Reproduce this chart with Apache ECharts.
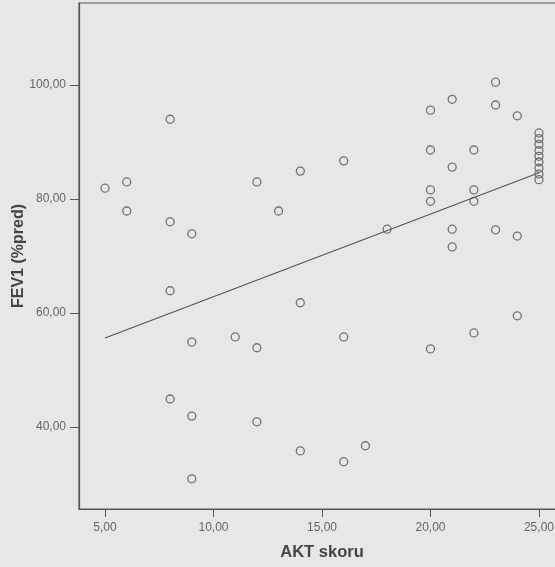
<!DOCTYPE html>
<html>
<head>
<meta charset="utf-8">
<script src="https://cdn.jsdelivr.net/npm/echarts@6/dist/echarts.min.js"></script>
<style>
    html,body{margin:0;padding:0;background:#e7e7e7;}
    #scatter_chart{width:555px;height:567px;}
</style>
</head>
<body>
<div id="scatter_chart"></div>
<script>
// AKT skoru (x) ve FEV1 (%pred) (y) degerleri
var akt_score = [5, 6, 6, 8, 8, 9, 12, 13, 23, 21, 23, 20, 24, 20, 22, 16, 14, 21, 20, 22, 20, 22,
    18, 21, 23, 24, 21,
    25, 25, 25, 25, 25, 25, 25, 25, 25,
    8, 9, 11, 12, 8, 9, 12, 9,
    14, 16, 20, 22, 24, 14, 16, 17];
var fev1_pred = [81.9, 83, 77.9, 94, 76, 73.9, 83, 77.9, 100.5, 97.5, 96.5, 95.6, 94.6, 88.6, 88.6, 86.7, 84.9, 85.6, 81.6, 81.6, 79.6, 79.6,
    74.7, 74.7, 74.6, 73.5, 71.6,
    91.6, 90.6, 89.6, 88.5, 87.5, 86.5, 85.4, 84.4, 83.4,
    63.9, 54.9, 55.8, 53.9, 44.9, 41.9, 40.9, 30.9,
    61.8, 55.8, 53.7, 56.5, 59.5, 35.8, 33.9, 36.7];

// regresyon dogrusu (uc noktalar)
var fit_x = [5, 25];
var fit_y = [55.6, 84.6];

var x_ticks = [5, 10, 15, 20, 25];
var y_ticks = [40, 60, 80, 100];

var points = [];
for(var i=0;i<akt_score.length;i++){
    points.push([akt_score[i], fev1_pred[i]]);
}
var fitLine = [];
for(var j=0;j<fit_x.length;j++){
    fitLine.push([fit_x[j], fit_y[j]]);
}

function fmt(v){
    return v.toFixed(2).replace(".", ",");
}

var myChart = echarts.init(document.getElementById('scatter_chart'));
var option = {
    backgroundColor: '#e7e7e7',
    animation: false,
    grid: {
        left: 79,
        top: 3,
        right: -10,
        bottom: 58,
        outerBoundsMode: 'none',
        show: true,
        borderColor: '#555',
        borderWidth: 1.2,
        backgroundColor: 'transparent'
    },
    xAxis: {
        type: 'value',
        min: 3.8,
        max: 26.2,
        name: 'AKT skoru',
        nameLocation: 'middle',
        nameGap: 35,
        nameMoveOverlap: false,
        nameTextStyle: {
            fontFamily: 'Liberation Sans',
            fontWeight: 'bold',
            fontSize: 16.5,
            color: '#444'
        },
        splitLine: {show: false},
        axisLine: {show: true, lineStyle: {color: '#555', width: 1.2}},
        axisTick: {show: true, length: 8, customValues: x_ticks, lineStyle: {color: '#555'}},
        axisLabel: {
            customValues: x_ticks,
            margin: 13,
            fontFamily: 'Liberation Sans',
            fontSize: 12,
            color: '#666',
            formatter: fmt
        }
    },
    yAxis: {
        type: 'value',
        min: 25.6,
        max: 114.4,
        name: 'FEV1 (%pred)',
        nameLocation: 'middle',
        nameGap: 52,
        nameMoveOverlap: false,
        nameTextStyle: {
            fontFamily: 'Liberation Sans',
            fontWeight: 'bold',
            fontSize: 16,
            color: '#444'
        },
        splitLine: {show: false},
        axisLine: {show: true, lineStyle: {color: '#555', width: 1.2}},
        axisTick: {show: true, length: 9, customValues: y_ticks, lineStyle: {color: '#555'}},
        axisLabel: {
            customValues: y_ticks,
            margin: 13,
            fontFamily: 'Liberation Sans',
            fontSize: 12,
            color: '#666',
            formatter: fmt
        }
    },
    series: [
        {
            type: 'line',
            data: fitLine,
            symbol: 'none',
            lineStyle: {color: '#555', width: 1.2}
        },
        {
            type: 'scatter',
            data: points,
            symbol: 'circle',
            symbolSize: 8,
            itemStyle: {color: 'transparent', borderColor: '#555', borderWidth: 1.3}
        }
    ]
};
myChart.setOption(option);
</script>
</body>
</html>
